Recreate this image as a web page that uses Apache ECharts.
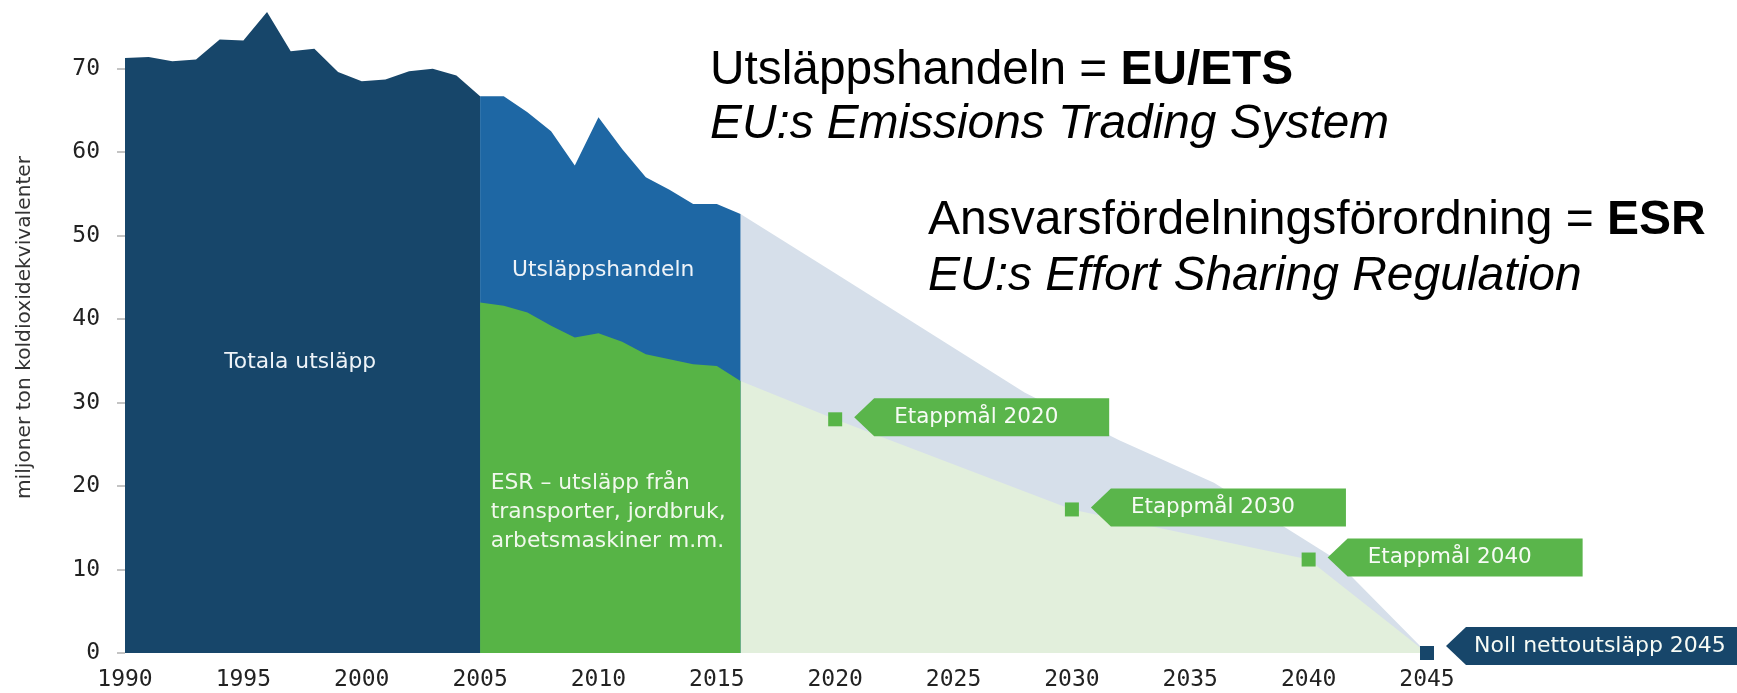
<!DOCTYPE html>
<html>
<head>
    <meta charset="utf-8" />
    <title>Utsläpp och etappmål</title>
    <script src="https://cdn.jsdelivr.net/npm/echarts@6.0.0/dist/echarts.min.js"></script>
    <style>
        html, body { margin: 0; padding: 0; background: #fff; }
        #chart { width: 1737px; height: 693px; }
    </style>
</head>
<body>
    <div id="chart"></div>
    <script>
        // totala utsläpp 1990-2005
        var yearsHist = [1990, 1991, 1992, 1993, 1994, 1995, 1996, 1997, 1998, 1999, 2000, 2001, 2002, 2003, 2004, 2005];
        var totalHist = [71.3, 71.4, 70.9, 71.1, 73.5, 73.4, 76.8, 72.1, 72.4, 69.6, 68.5, 68.7, 69.7, 70.0, 69.2, 66.7];

        // 2005-2016: utsläppshandeln (överst) + ESR
        var yearsSplit = [2005, 2006, 2007, 2008, 2009, 2010, 2011, 2012, 2013, 2014, 2015, 2016];
        var totalSplit = [66.7, 66.7, 64.8, 62.5, 58.4, 64.2, 60.4, 57.0, 55.5, 53.8, 53.8, 52.6];
        var esrSplit = [42.0, 41.6, 40.8, 39.2, 37.8, 38.3, 37.3, 35.8, 35.2, 34.6, 34.4, 32.6];

        // banor mot 2045
        var yearsProjTotal = [2016, 2020, 2028, 2032, 2036, 2041, 2045];
        var projTotal = [52.6, 45.5, 31.2, 25.5, 20.4, 11.5, 0];
        var yearsProjEsr = [2016, 2020, 2030, 2040, 2045];
        var projEsr = [32.6, 28.0, 17.2, 11.2, 0];

        // etappmål
        var goalYears = [2020, 2030, 2040];
        var goalValues = [28.0, 17.2, 11.2];
        var goalLabels = ['Etappmål 2020', 'Etappmål 2030', 'Etappmål 2040'];
        var netZeroYear = [2045];
        var netZeroValue = [0];
        var netZeroLabels = ['Noll nettoutsläpp 2045'];

        // texter i ytorna
        var centerLabelPos = [[1997.4, 34.8], [2010.2, 45.9]];
        var centerLabels = ['Totala utsläpp', 'Utsläppshandeln'];
        var esrLabelPos = [[2005.45, 16.9]];
        var esrLabels = ['ESR – utsläpp från\ntransporter, jordbruk,\narbetsmaskiner m.m.'];

        var yTicks = [0, 10, 20, 30, 40, 50, 60, 70];
        var xTicks = [1990, 1995, 2000, 2005, 2010, 2015, 2020, 2025, 2030, 2035, 2040, 2045];

        function pairs(xs, ys) {
            return xs.map(function (x, i) { return [x, ys[i]]; });
        }

        function areaSeries(name, data, color, z) {
            return {
                name: name,
                type: 'line',
                data: data,
                symbol: 'none',
                smooth: false,
                lineStyle: { width: 0 },
                areaStyle: { color: color, opacity: 1 },
                z: z,
                silent: true
            };
        }

        function calloutSeries(data, labels, color, boxWidth, dy, textPad, fontSize) {
            return {
                type: 'custom',
                data: data,
                z: 6,
                clip: false,
                silent: true,
                renderItem: function (params, api) {
                    var p = api.coord([api.value(0), api.value(1)]);
                    var tip = p[0] + 19;
                    var cy = p[1] + dy;
                    var h = 38;
                    return {
                        type: 'group',
                        children: [{
                            type: 'polygon',
                            shape: {
                                points: [[tip, cy], [tip + 20, cy - h / 2], [tip + boxWidth, cy - h / 2],
                                    [tip + boxWidth, cy + h / 2], [tip + 20, cy + h / 2]]
                            },
                            style: { fill: color }
                        }, {
                            type: 'text',
                            x: tip + textPad,
                            y: cy,
                            style: {
                                text: labels[params.dataIndex],
                                fill: '#f7fbf5',
                                font: fontSize + 'px "DejaVu Sans"',
                                align: 'left',
                                verticalAlign: 'middle'
                            }
                        }]
                    };
                }
            };
        }

        function textSeries(data, labels, align, color, lineHeight) {
            return {
                type: 'custom',
                data: data,
                z: 7,
                clip: false,
                silent: true,
                renderItem: function (params, api) {
                    var p = api.coord([api.value(0), api.value(1)]);
                    return {
                        type: 'text',
                        x: p[0],
                        y: p[1],
                        style: {
                            text: labels[params.dataIndex],
                            fill: color,
                            font: '21.8px "DejaVu Sans"',
                            lineHeight: lineHeight,
                            align: align,
                            verticalAlign: 'middle'
                        }
                    };
                }
            };
        }

        var chart = echarts.init(document.getElementById('chart'));

        var navy = '#17466a';
        var blue = '#1e67a4';
        var green = '#57b446';

        var option = {
            animation: false,
            backgroundColor: '#ffffff',
            grid: { left: 125, right: 310, top: 2, bottom: 40, outerBoundsMode: 'none' },
            xAxis: {
                type: 'value',
                min: 1990,
                max: 2045,
                interval: 5,
                splitLine: { show: false },
                axisLine: { show: false },
                axisTick: { show: false },
                axisLabel: {
                    customValues: xTicks,
                    formatter: function (v) { return String(v); },
                    margin: 16,
                    color: '#222',
                    fontFamily: 'DejaVu Sans Mono',
                    fontSize: 23
                }
            },
            yAxis: {
                type: 'value',
                min: 0,
                max: 78,
                interval: 10,
                name: 'miljoner ton koldioxidekvivalenter',
                nameLocation: 'middle',
                nameGap: 90,
                nameTextStyle: { color: '#333', fontFamily: 'DejaVu Sans', fontSize: 20.2 },
                splitLine: { show: false },
                axisLine: { show: false },
                axisTick: { show: true, customValues: yTicks, length: 8, inside: false, lineStyle: { color: '#c4c4c4', width: 2 } },
                axisLabel: {
                    customValues: yTicks,
                    formatter: function (v) { return String(v); },
                    margin: 25,
                    color: '#222',
                    fontFamily: 'DejaVu Sans Mono',
                    fontSize: 23
                }
            },
            graphic: [{
                type: 'text',
                x: 710,
                y: 71,
                style: {
                    text: '{r|Utsläppshandeln = }{b|EU/ETS}',
                    verticalAlign: 'middle',
                    rich: {
                        r: { fontFamily: 'Liberation Sans', fontSize: 47.8, fill: '#000' },
                        b: { fontFamily: 'Liberation Sans', fontSize: 47.8, fontWeight: 'bold', fill: '#000' }
                    }
                }
            }, {
                type: 'text',
                x: 710,
                y: 125,
                style: {
                    text: 'EU:s Emissions Trading System',
                    font: 'italic 47.8px "Liberation Sans"',
                    fill: '#000',
                    verticalAlign: 'middle'
                }
            }, {
                type: 'text',
                x: 928,
                y: 221,
                style: {
                    text: '{r|Ansvarsfördelningsförordning = }{b|ESR}',
                    verticalAlign: 'middle',
                    rich: {
                        r: { fontFamily: 'Liberation Sans', fontSize: 48, fill: '#000' },
                        b: { fontFamily: 'Liberation Sans', fontSize: 48, fontWeight: 'bold', fill: '#000' }
                    }
                }
            }, {
                type: 'text',
                x: 928,
                y: 277,
                style: {
                    text: 'EU:s Effort Sharing Regulation',
                    font: 'italic 48px "Liberation Sans"',
                    fill: '#000',
                    verticalAlign: 'middle'
                }
            }],
            series: [
                areaSeries('Bana totalt', pairs(yearsProjTotal, projTotal), '#d6dfea', 1),
                areaSeries('Bana ESR', pairs(yearsProjEsr, projEsr), '#e2efdc', 2),
                areaSeries('Totala utsläpp', pairs(yearsHist, totalHist), navy, 3),
                areaSeries('Utsläppshandeln', pairs(yearsSplit, totalSplit), blue, 3),
                areaSeries('ESR', pairs(yearsSplit, esrSplit), green, 4),
                {
                    name: 'Etappmål',
                    type: 'scatter',
                    data: pairs(goalYears, goalValues),
                    symbol: 'rect',
                    symbolSize: 14,
                    itemStyle: { color: '#58b548', opacity: 1 },
                    clip: false,
                    z: 6,
                    silent: true
                },
                {
                    name: 'Noll netto',
                    type: 'scatter',
                    data: pairs(netZeroYear, netZeroValue),
                    symbol: 'rect',
                    symbolSize: 14,
                    itemStyle: { color: navy, opacity: 1 },
                    clip: false,
                    z: 6,
                    silent: true
                },
                calloutSeries(pairs(goalYears, goalValues), goalLabels, '#5ab54b', 255, -2, 40, 21.5),
                calloutSeries(pairs(netZeroYear, netZeroValue), netZeroLabels, navy, 320, -7, 28, 22),
                textSeries(centerLabelPos, centerLabels, 'center', '#eef3f8', 24),
                textSeries(esrLabelPos, esrLabels, 'left', '#f0f8ec', 29)
            ]
        };

        chart.setOption(option);
    </script>
</body>
</html>
